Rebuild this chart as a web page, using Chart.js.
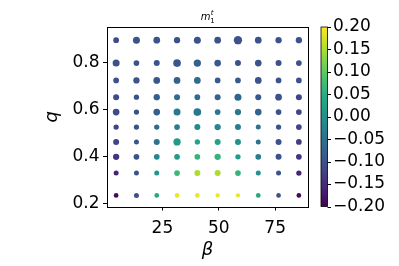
<!DOCTYPE html>
<html>
<head>
<meta charset="utf-8">
<script src="https://cdn.jsdelivr.net/npm/chart.js@4.4.1/dist/chart.umd.min.js"></script>
<style>
  html, body { margin: 0; padding: 0; background: #fff; }
</style>
</head>
<body>
<canvas id="chart" width="399" height="266"></canvas>
<script>
// x: beta, y: q (bottom row first)
var betaValues = [4.5, 13.5, 22.5, 31.5, 40.5, 49.5, 58.5, 67.5, 76.5, 85.5];
var qValues = [0.235, 0.330, 0.399, 0.462, 0.525, 0.589, 0.652, 0.723, 0.797, 0.894];

// m1^t for each q row (same order as qValues), one value per beta
var m1tValues = [
  [-0.19, -0.10,  0.04,  0.19,  0.19,  0.19,  0.19,  0.04, -0.10, -0.19],
  [-0.16, -0.10,  0.01,  0.07,  0.15,  0.15,  0.06,  0.00, -0.10, -0.16],
  [-0.14, -0.10, -0.02,  0.02,  0.06,  0.06,  0.02, -0.03, -0.10, -0.14],
  [-0.12, -0.10, -0.05,  0.02,  0.03,  0.03,  0.00, -0.05, -0.10, -0.13],
  [-0.12, -0.10, -0.06, -0.03, -0.01, -0.02, -0.03, -0.05, -0.10, -0.12],
  [-0.11, -0.10, -0.08, -0.04, -0.04, -0.04, -0.04, -0.07, -0.10, -0.12],
  [-0.11, -0.10, -0.08, -0.06, -0.06, -0.07, -0.07, -0.09, -0.10, -0.12],
  [-0.10, -0.10, -0.09, -0.075, -0.06, -0.085, -0.085, -0.10, -0.10, -0.10],
  [-0.10, -0.10, -0.10, -0.09, -0.08, -0.085, -0.10, -0.10, -0.10, -0.10],
  [-0.11, -0.10, -0.10, -0.10, -0.10, -0.10, -0.10, -0.10, -0.10, -0.10]
];

// second quantity shown by the dot size (arbitrary units)
var m1tSpread = [
  [0.47, 0.50, 0.47, 0.47, 0.47, 0.43, 0.43, 0.47, 0.47, 0.47],
  [0.50, 0.50, 0.50, 0.57, 0.60, 0.60, 0.57, 0.50, 0.50, 0.53],
  [0.63, 0.57, 0.57, 0.57, 0.57, 0.63, 0.53, 0.57, 0.60, 0.57],
  [0.60, 0.50, 0.60, 0.73, 0.53, 0.60, 0.60, 0.50, 0.60, 0.57],
  [0.53, 0.53, 0.53, 0.57, 0.60, 0.63, 0.60, 0.50, 0.53, 0.57],
  [0.67, 0.53, 0.67, 0.70, 0.77, 0.57, 0.63, 0.67, 0.57, 0.57],
  [0.60, 0.53, 0.63, 0.60, 0.57, 0.60, 0.70, 0.60, 0.67, 0.60],
  [0.57, 0.63, 0.67, 0.67, 0.67, 0.57, 0.57, 0.67, 0.57, 0.57],
  [0.70, 0.57, 0.60, 0.77, 0.73, 0.67, 0.60, 0.67, 0.60, 0.57],
  [0.57, 0.70, 0.67, 0.63, 0.70, 0.67, 0.83, 0.67, 0.63, 0.63]
];

var xTicks = [25, 50, 75];
var yTicks = [0.2, 0.4, 0.6, 0.8];
var colorTicks = [-0.20, -0.15, -0.10, -0.05, 0.00, 0.05, 0.10, 0.15, 0.20];
var cMin = -0.2, cMax = 0.2;

var viridisStops = ['#440154', '#482475', '#414487', '#355f8d', '#2a788e', '#21918c',
                    '#22a884', '#44bf70', '#7ad151', '#bddf26', '#fde725'];

function hexToRgb(h) {
  return [parseInt(h.substr(1, 2), 16), parseInt(h.substr(3, 2), 16), parseInt(h.substr(5, 2), 16)];
}

function viridis(t) {
  t = Math.max(0, Math.min(1, t));
  var pos = t * (viridisStops.length - 1);
  var k = Math.min(Math.floor(pos), viridisStops.length - 2);
  var f = pos - k;
  var a = hexToRgb(viridisStops[k]), b = hexToRgb(viridisStops[k + 1]);
  var c = a.map(function(v, i) { return Math.round(v + (b[i] - v) * f); });
  return 'rgb(' + c.join(',') + ')';
}

function fmt(v, d) {
  if (Math.abs(v) < 1e-9) v = 0;
  return v.toFixed(d).replace('-', '\u2212');
}

var points = [], colors = [], radii = [];
for (var i = 0; i < qValues.length; i++) {
  for (var j = 0; j < betaValues.length; j++) {
    points.push({ x: betaValues[j], y: qValues[i] });
    colors.push(viridis((m1tValues[i][j] - cMin) / (cMax - cMin)));
    radii.push(m1tSpread[i][j] * 5);
  }
}

var tickFont = { family: 'DejaVu Sans', size: 17 };

// colorbar, frame and title
var extrasPlugin = {
  id: 'extras',
  afterDraw: function(chart) {
    var ctx = chart.ctx, area = chart.chartArea, cb = chart.scales.cb;
    ctx.save();

    // plot frame
    var l = Math.round(area.left) + 0.5, t = Math.round(area.top) + 0.5;
    var r = Math.round(area.right) + 0.5, b = Math.round(area.bottom) + 0.5;
    ctx.strokeStyle = '#000';
    ctx.lineWidth = 1;
    ctx.strokeRect(l, t, r - l, b - t);

    // colorbar
    var x0 = area.right + 13, w = 6.5;
    var top = cb.getPixelForValue(cMax), bottom = cb.getPixelForValue(cMin);
    var grad = ctx.createLinearGradient(0, bottom, 0, top);
    viridisStops.forEach(function(c, k) { grad.addColorStop(k / (viridisStops.length - 1), c); });
    ctx.fillStyle = grad;
    ctx.fillRect(x0, top, w, bottom - top);
    ctx.lineWidth = 0.8;
    ctx.strokeRect(x0, top, w, bottom - top);
    ctx.lineWidth = 1;
    ctx.beginPath();
    cb.ticks.forEach(function(tk) {
      var y = Math.round(cb.getPixelForValue(tk.value)) + 0.5;
      ctx.moveTo(x0 + w, y);
      ctx.lineTo(x0 + w + 3.5, y);
    });
    ctx.stroke();

    // title m_1^t
    var cx = (area.left + area.right) / 2;
    ctx.fillStyle = '#000';
    ctx.textBaseline = 'alphabetic';
    ctx.textAlign = 'left';
    ctx.font = 'italic 10px "DejaVu Sans"';
    var mw = ctx.measureText('m').width;
    var sx = cx - (mw + 4) / 2;
    ctx.fillText('m', sx, 20);
    ctx.font = 'italic 7px "DejaVu Sans"';
    ctx.fillText('t', sx + mw + 0.5, 15);
    ctx.font = '7px "DejaVu Sans"';
    ctx.fillText('1', sx + mw, 23);
    ctx.restore();
  }
};

function noVerticalPadding(scale) {
  scale.paddingTop = 0;
  scale.paddingBottom = 0;
}

var ctx = document.getElementById('chart').getContext('2d');
var chart = new Chart(ctx, {
  type: 'scatter',
  data: {
    datasets: [{
      data: points,
      pointBackgroundColor: colors,
      pointBorderWidth: 0,
      pointRadius: radii,
      pointHoverRadius: radii
    }]
  },
  options: {
    responsive: false,
    animation: false,
    events: [],
    layout: { padding: { top: 27, left: 0, right: 0, bottom: 0 } },
    plugins: { legend: { display: false }, tooltip: { enabled: false } },
    scales: {
      x: {
        type: 'linear',
        position: 'bottom',
        min: 0.45,
        max: 89.55,
        afterBuildTicks: function(scale) { scale.ticks = xTicks.map(function(v) { return { value: v }; }); },
        afterFit: function(scale) { scale.height = 59.5; scale.paddingLeft = 0; scale.paddingRight = 0; },
        ticks: { font: tickFont, color: '#000', padding: 7.5, autoSkip: false, maxRotation: 0,
                 callback: function(v) { return String(v); } },
        grid: { drawOnChartArea: false, drawTicks: true, tickLength: 4, color: '#000' },
        border: { display: false },
        title: { display: true, text: 'β', color: '#000',
                 font: { family: 'DejaVu Sans', size: 18, style: 'italic' },
                 padding: { top: 0, bottom: 5 } }
      },
      y: {
        type: 'linear',
        position: 'left',
        min: 0.188,
        max: 0.95,
        afterBuildTicks: function(scale) { scale.ticks = yTicks.map(function(v) { return { value: v }; }); },
        afterFit: function(scale) { scale.width = 107; noVerticalPadding(scale); },
        ticks: { font: tickFont, color: '#000', padding: 3.5, autoSkip: false,
                 callback: function(v) { return fmt(v, 1); } },
        grid: { drawOnChartArea: false, drawTicks: true, tickLength: 4, color: '#000' },
        border: { display: false },
        title: { display: true, text: 'q', color: '#000',
                 font: { family: 'DejaVu Sans', size: 18, style: 'italic' },
                 padding: { top: 42, bottom: 0 } }
      },
      cb: {
        type: 'linear',
        position: 'right',
        min: cMin,
        max: cMax,
        afterBuildTicks: function(scale) { scale.ticks = colorTicks.map(function(v) { return { value: v }; }); },
        afterFit: function(scale) { scale.width = 91; noVerticalPadding(scale); },
        ticks: { font: tickFont, color: '#000', padding: 25, autoSkip: false,
                 callback: function(v) { return fmt(v, 2); } },
        grid: { display: false, drawTicks: false },
        border: { display: false }
      }
    }
  },
  plugins: [extrasPlugin]
});
</script>
</body>
</html>
